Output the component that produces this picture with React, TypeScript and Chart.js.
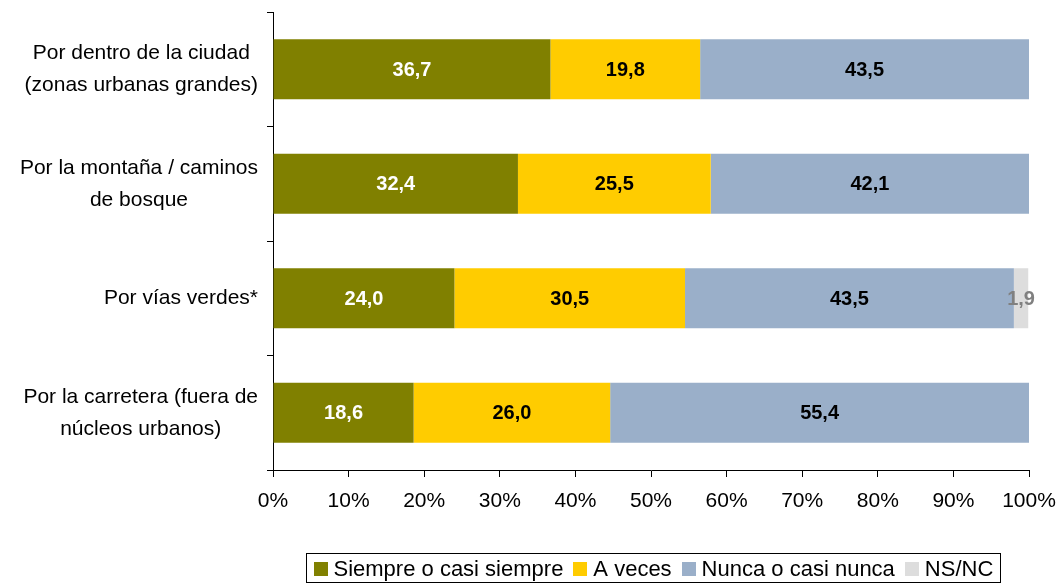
import React, { useEffect, useRef } from "react";
import { Chart, registerables } from "chart.js";

Chart.register(...registerables);

const categories: string[][] = [
  ["Por dentro de la ciudad", "(zonas urbanas grandes)"],
  ["Por la montaña / caminos", "de bosque"],
  ["Por vías verdes*"],
  ["Por la carretera (fuera de", "núcleos urbanos)"],
];

const seriesNames = ["Siempre o casi siempre", "A veces", "Nunca o casi nunca", "NS/NC"];
const siempre = [36.7, 32.4, 24.0, 18.6];
const aVeces = [19.8, 25.5, 30.5, 26.0];
const nunca = [43.5, 42.1, 43.5, 55.4];
const nsnc = [0, 0, 1.9, 0];

const seriesColors = ["#808000", "#FFCC00", "#9AAFC9", "#DDDDDD"];
const labelColors = ["#FFFFFF", "#000000", "#000000", "#808080"];
const xTicks = [0, 10, 20, 30, 40, 50, 60, 70, 80, 90, 100];

const FONT = "'Liberation Sans', Arial, sans-serif";

const customPlugin = {
  id: "customDraw",
  afterDatasetsDraw(chart: any) {
    const ctx = chart.ctx;
    ctx.save();
    ctx.font = `bold 20px ${FONT}`;
    ctx.textAlign = "center";
    ctx.textBaseline = "middle";
    chart.data.datasets.forEach((ds: any, di: number) => {
      const meta = chart.getDatasetMeta(di);
      meta.data.forEach((bar: any, i: number) => {
        const v = ds.data[i];
        if (!v) return;
        const cx = (bar.x + bar.base) / 2;
        ctx.fillStyle = labelColors[di];
        ctx.fillText(v.toFixed(1).replace(".", ","), cx, bar.y + 1);
      });
    });
    ctx.restore();
  },
  afterDraw(chart: any) {
    const ctx = chart.ctx;
    const yScale = chart.scales.y;
    ctx.save();
    // category labels
    ctx.font = `21px ${FONT}`;
    ctx.fillStyle = "#000";
    ctx.textAlign = "center";
    ctx.textBaseline = "middle";
    const right = chart.chartArea.left - 15;
    const lh = 32;
    (chart.data.labels as string[][]).forEach((lines, i) => {
      const cy = yScale.getPixelForValue(i);
      const maxW = Math.max(...lines.map((l) => ctx.measureText(l).width));
      const cx = right - maxW / 2;
      lines.forEach((l, j) => {
        ctx.fillText(l, cx, cy + (j - (lines.length - 1) / 2) * lh);
      });
    });

    // legend
    ctx.font = `22px ${FONT}`;
    const boxS = 14;
    const gapBT = 6;
    const gapItem = 10;
    const padL = 7;
    const padR = 7;
    const widths = seriesNames.map((n) => ctx.measureText(n).width);
    let total = 0;
    widths.forEach((w, i) => {
      total += boxS + gapBT + w + (i < widths.length - 1 ? gapItem : 0);
    });
    const boxW = total + padL + padR;
    const centerX = 652.5;
    const lx = Math.round(centerX - boxW / 2) + 0.5;
    const ly = 553.5;
    const lhgt = 29;
    ctx.strokeStyle = "#000";
    ctx.lineWidth = 1;
    ctx.strokeRect(lx, ly, Math.round(boxW), lhgt);
    let x = lx + padL;
    const cy = ly + lhgt / 2 + 0.5;
    ctx.textAlign = "left";
    seriesNames.forEach((n, i) => {
      ctx.fillStyle = seriesColors[i];
      ctx.fillRect(Math.round(x), Math.round(cy - boxS / 2), boxS, boxS);
      x += boxS + gapBT;
      ctx.fillStyle = "#000";
      ctx.fillText(n, x, cy + 1);
      x += widths[i] + gapItem;
    });
    ctx.restore();
  },
};

export default function App() {
  const ref = useRef<HTMLCanvasElement>(null);
  useEffect(() => {
    document.body.style.margin = "0";
    const values = [siempre, aVeces, nunca, nsnc];
    const chart = new Chart(ref.current as HTMLCanvasElement, {
      type: "bar",
      data: {
        labels: categories as any,
        datasets: seriesNames.map((name, i) => ({
          label: name,
          data: values[i],
          backgroundColor: seriesColors[i],
          borderWidth: 0,
          barPercentage: 0.524,
          categoryPercentage: 1,
        })),
      },
      options: {
        indexAxis: "y",
        animation: false,
        responsive: false,
        maintainAspectRatio: false,
        layout: { padding: { left: 0, right: 28, top: 12, bottom: 74 } },
        plugins: {
          legend: { display: false },
          tooltip: { enabled: false },
        },
        scales: {
          x: {
            stacked: true,
            min: 0,
            max: 100,
            afterBuildTicks(scale: any) {
              scale.ticks = xTicks.map((v) => ({ value: v }));
            },
            afterFit(scale: any) {
              scale.height = 40;
              scale.paddingLeft = 0;
              scale.paddingRight = 0;
            },
            border: { display: true, color: "#000", width: 1 },
            grid: {
              display: true,
              drawOnChartArea: false,
              drawTicks: true,
              tickLength: 7,
              color: "#000",
            },
            ticks: {
              color: "#000",
              font: { family: FONT, size: 21 },
              padding: 12,
              maxRotation: 0,
              autoSkip: false,
              callback: (v: any) => `${v}%`,
            },
          },
          y: {
            stacked: true,
            afterFit(scale: any) {
              scale.width = 273;
              scale.paddingTop = 0;
              scale.paddingBottom = 0;
            },
            border: { display: true, color: "#000", width: 1 },
            grid: {
              display: true,
              offset: true,
              drawOnChartArea: false,
              drawTicks: true,
              tickLength: 6,
              color: "#000",
            },
            ticks: { display: false },
          },
        },
      },
      plugins: [customPlugin],
    });
    return () => chart.destroy();
  }, []);
  return (
    <div style={{ width: 1057, height: 584 }}>
      <canvas ref={ref} width={1057} height={584} style={{ display: "block" }} />
    </div>
  );
}
